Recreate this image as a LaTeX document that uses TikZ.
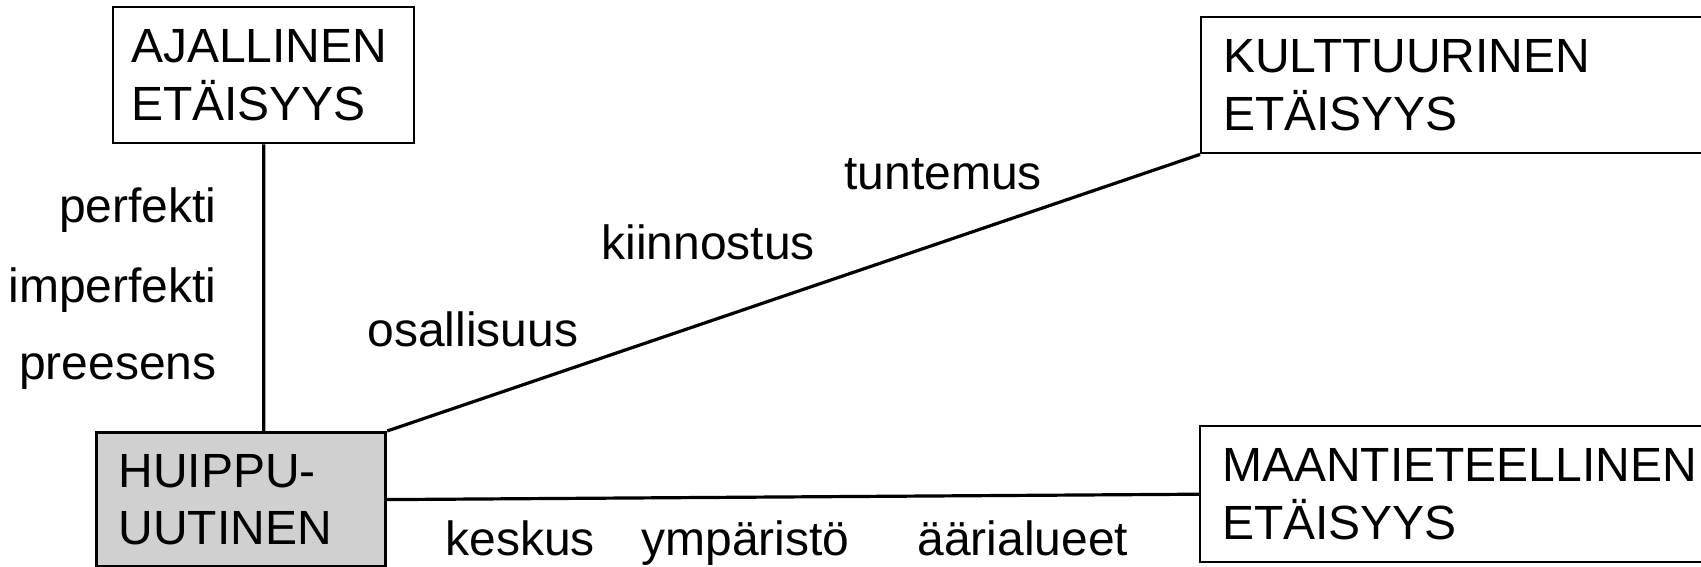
\documentclass[tikz,border=0pt]{standalone}
\usepackage{fontspec}
\setmainfont{Liberation Sans}
\definecolor{hubgray}{RGB}{208,208,208}
\begin{document}
\begin{tikzpicture}[x=.5pt,y=-.5pt, font=\fontsize{24}{28.8}\selectfont,
 etbox/.style={draw,line width=1.2pt,anchor=north west,minimum height=68pt,inner xsep=9pt,align=left},
 lbl/.style={inner sep=0pt}]
\useasboundingbox (0,0) rectangle (1701,567);
\node[etbox,text width=132.5pt] (aika) at (112,6) {AJALLINEN\\ETÄISYYS};
\node[etbox,text width=122.5pt,inner xsep=11pt,minimum height=67pt,fill=hubgray,line width=1.6pt] (huippu) at (95,431) {HUIPPU-\\UUTINEN};
\node[etbox,text width=258pt,inner xsep=11pt] (kult) at (1200,16) {KULTTUURINEN\\ETÄISYYS};
\node[etbox,text width=258pt,inner xsep=11pt] (maa) at (1199,425) {MAANTIETEELLINEN\\ETÄISYYS};
\draw[line width=1.6pt] (aika.south) -- (aika.south |- huippu.north) (huippu.north east) -- (kult.south west) (huippu.east) -- (maa.west);
\foreach \n/\t/\y in {perf/perfekti/222, imperf/imperfekti/302, prees/preesens/379}
 \node[lbl,anchor=base east] (\n) at (217,\y) {\t};
\foreach \n/\t/\x/\y in {osal/osallisuus/367/346, kiin/kiinnostus/601/259, tunt/tuntemus/844/189, kesk/keskus/445/555, ymp/ympäristö/641/555, aari/äärialueet/917/555}
 \node[lbl,anchor=base west] (\n) at (\x,\y) {\t};
\end{tikzpicture}
\end{document}
